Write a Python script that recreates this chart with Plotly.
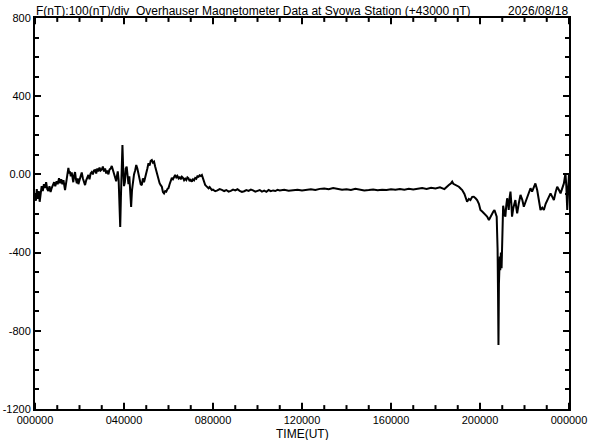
import plotly.graph_objects as go

# Time (hours UT) and total field deviation (nT, relative to 43000 nT)
time_h = [
    0.00, 0.04, 0.08, 0.12, 0.17, 0.21, 0.26, 0.30, 0.35, 0.40, 0.45, 0.50, 0.55, 0.60, 0.65,
    0.70, 0.75, 0.80, 0.86, 0.91, 0.97, 1.02, 1.08, 1.13, 1.18, 1.23, 1.28, 1.35, 1.40, 1.45,
    1.50, 1.54, 1.57, 1.61, 1.65, 1.69, 1.72, 1.76, 1.80, 1.84, 1.88, 1.92, 1.95, 2.00, 2.05,
    2.10, 2.15, 2.20, 2.25, 2.30, 2.35, 2.40, 2.45, 2.50, 2.55, 2.60, 2.65, 2.70, 2.75, 2.80,
    2.85, 2.90, 2.95, 3.00, 3.05, 3.10, 3.15, 3.20, 3.25, 3.30, 3.35, 3.40, 3.45, 3.50, 3.55,
    3.60, 3.65, 3.68, 3.72, 3.76,
    3.80, 3.83, 3.86, 3.90, 3.93, 3.96, 4.00, 4.04, 4.08, 4.12, 4.16, 4.20, 4.24, 4.28, 4.32,
    4.36, 4.40, 4.45, 4.50, 4.55, 4.60, 4.65, 4.70, 4.75, 4.80, 4.85, 4.90, 4.95,
    5.00, 5.05, 5.10, 5.15, 5.20, 5.25, 5.30, 5.35, 5.40, 5.45, 5.50, 5.55, 5.60, 5.65, 5.70,
    5.75, 5.80, 5.85, 5.90, 5.95, 6.00, 6.05, 6.10, 6.15, 6.20, 6.25, 6.30, 6.35, 6.40, 6.45,
    6.50, 6.55, 6.60, 6.65, 6.70, 6.75, 6.80, 6.85, 6.90, 6.95, 7.00, 7.05, 7.10, 7.15, 7.20,
    7.25, 7.30, 7.35, 7.40, 7.45, 7.50, 7.55, 7.60, 7.65, 7.70, 7.75, 7.80, 7.85, 7.90, 7.95,
    8.0, 8.1, 8.2, 8.3, 8.4, 8.5, 8.6, 8.7, 8.8, 8.9, 9.0, 9.1, 9.2, 9.3, 9.4, 9.5, 9.6, 9.7,
    9.8, 9.9, 10.0, 10.1, 10.2, 10.3, 10.4, 10.5, 10.6, 10.7, 10.8, 10.9,
    11.0, 11.2, 11.4, 11.6, 11.8, 12.0, 12.2, 12.4, 12.6, 12.8, 13.0, 13.2, 13.4, 13.6, 13.8,
    14.0, 14.2, 14.4, 14.6, 14.8, 15.0, 15.2, 15.4, 15.6, 15.8, 16.0, 16.2, 16.4, 16.6, 16.8,
    17.0, 17.2, 17.4, 17.6, 17.8, 18.0, 18.2, 18.4,
    18.5, 18.6, 18.7, 18.75, 18.8, 18.9, 19.0, 19.05, 19.15, 19.2, 19.3, 19.35, 19.42, 19.5,
    19.57, 19.65, 19.72, 19.80, 19.87, 19.95, 20.02, 20.10, 20.17, 20.25, 20.32, 20.40, 20.47,
    20.55, 20.60, 20.65, 20.69, 20.72, 20.75, 20.77, 20.79, 20.81, 20.83, 20.85, 20.87, 20.89,
    20.91, 20.94, 20.97, 21.00, 21.04, 21.10, 21.14, 21.18, 21.22, 21.26, 21.29, 21.33, 21.37,
    21.41, 21.44, 21.50, 21.55, 21.59, 21.63, 21.67, 21.74, 21.82, 21.90, 21.97, 22.05, 22.12,
    22.20, 22.27, 22.34, 22.42, 22.49, 22.57, 22.64, 22.72, 22.80, 22.87, 22.95, 23.02, 23.10,
    23.17, 23.25, 23.32, 23.40, 23.47, 23.55, 23.62, 23.70, 23.77, 23.84, 23.88, 23.92, 23.96,
    24.00,
]

field_nT = [
    -105, -135, -75, -125, -85, -140, -95, -60, -85, -50, -70, -40, -75, -85, -60,
    -90, -70, -50, -40, -60, -35, -50, -20, -45, -25, -50, -30, -80, -25, -5,
    33, 5, 15, -10, 10, -20, -40, -5, 12, -25, -45, -20, -50, -30, -10,
    10, -20, -40, -55, -30, -10, -3, -25, 5, 12, 0, 20, 22, 5, 30,
    15, 35, 20, 25, 40, 15, 30, 5, 20, 0, 25, 30, 43, 20, 0,
    -20, -35, -10, 15, -30,
    -150, -269, -120, 80, 150, 40, -60, -40, 30, 40, -20, -50, -10, -120, -167,
    -80, -40, 0, 20, 48, 30, 0, -30, -50, -55, -20, -40, -10,
    5, 30, 57, 45, 70, 74, 60, 65, 40, 15, -10, -29, -45, -55, -63,
    -90, -97, -85, -88, -75, -70, -50, -35, -18, -25, -10, -3, -15, -8, -20,
    -12, -25, -12, -18, -30, -22, -29, -15, -20, -35, -28, -37, -25, -30, -18,
    -22, -10, -12, -5, -8, -3, -20, -40, -54, -60, -68, -71, -65, -75, -80,
    -78, -86, -82, -75, -79, -85, -80, -88, -84, -78, -82, -76, -84, -90, -86,
    -80, -84, -78, -82, -88, -84, -80, -88, -83, -89, -80, -86, -82, -85, -79,
    -82, -79, -83, -80, -78, -82, -79, -76, -80, -74, -72, -76, -70, -75, -79,
    -76, -80, -74, -78, -82, -80, -77, -81, -78, -80, -76, -79, -75, -78, -74,
    -77, -72, -70, -74, -68, -72, -66, -75,
    -62, -54, -45, -37, -48, -54, -60, -63, -75, -80, -100, -114, -140, -125,
    -131, -115, -114, -122, -131, -150, -182, -190, -199, -205, -216, -233, -216,
    -199, -190, -182, -195, -210, -216, -300, -380, -600, -872, -560, -470, -420,
    -490, -400, -480, -330, -160, -200, -216, -160, -122, -150, -182, -120, -88,
    -150, -216, -170, -140, -131, -170, -199, -150, -105, -130, -165, -140, -114,
    -95, -71, -88, -60, -46, -80, -140, -182, -170, -182, -150, -131, -110,
    -97, -115, -131, -90, -63, -80, -97, -70, -46, 5, -60, -182, -80,
    5,
]

x_tickvals = [0, 4, 8, 12, 16, 20, 24]
x_minor_tickvals = [1, 2, 3, 5, 6, 7, 9, 10, 11, 13, 14, 15, 17, 18, 19, 21, 22, 23]
x_ticktext = ["000000", "040000", "080000", "120000", "160000", "200000", "000000"]
y_tickvals = [800, 400, 0, -400, -800, -1200]
y_ticktext = ["800", "400", "0.00", "-400", "-800", "-1200"]
x_range = [0, 24]
y_range = [-1200, 800]

title_left = "F(nT):100(nT)/div  Overhauser Magnetometer Data at Syowa Station (+43000 nT)"
title_right = "2026/08/18"
x_title = "TIME(UT)"

FONT = "Liberation Sans, Arial, sans-serif"

fig = go.Figure()
fig.add_trace(go.Scatter(
    x=time_h, y=field_nT, mode="lines",
    line=dict(color="black", width=2),
    hoverinfo="skip", showlegend=False,
))

# inward tick marks along the bottom and top frame edges, at the x tick values
# (tick length expressed as a fraction of the y-axis height)
for vals, frac in ((x_tickvals, 0.016), (x_minor_tickvals, 0.010)):
    for v in vals:
        fig.add_shape(type="line", xref="x", x0=v, x1=v, yref="y domain",
                      y0=0, y1=frac, line=dict(color="black", width=2), layer="above")
        fig.add_shape(type="line", xref="x", x0=v, x1=v, yref="y domain",
                      y0=1, y1=1 - frac, line=dict(color="black", width=2), layer="above")

base = dict(showline=True, linecolor="black", linewidth=2, showgrid=False,
            zeroline=False, automargin=False,
            tickfont=dict(family=FONT, size=11, color="black"))

fig.update_layout(
    xaxis=dict(range=x_range, tickmode="array", tickvals=x_tickvals, ticktext=x_ticktext,
               mirror=True, ticks="", ticklabelstandoff=0,
               **base),
    yaxis=dict(range=y_range, tickmode="array", tickvals=y_tickvals, ticktext=y_ticktext,
               mirror="ticks", ticks="inside", ticklen=6, tickwidth=2, tickcolor="black",
               minor=dict(dtick=100, ticks="inside", ticklen=4, tickcolor="black"),
               ticklabelstandoff=0,
               **base),
)

fig.add_annotation(text=title_left, xref="paper", yref="paper", x=0, y=1,
                   xanchor="left", yanchor="bottom", showarrow=False, borderpad=0,
                   font=dict(family=FONT, size=12, color="black"), yshift=-1)
fig.add_annotation(text=title_right, xref="paper", yref="paper", x=1, y=1,
                   xanchor="right", yanchor="bottom", showarrow=False, borderpad=0,
                   font=dict(family=FONT, size=12, color="black"), yshift=-1)
fig.add_annotation(text=x_title, xref="paper", yref="paper", x=0.5, y=0,
                   xanchor="center", yanchor="top", showarrow=False, borderpad=0,
                   font=dict(family=FONT, size=12, color="black"), yshift=-17)

fig.update_layout(
    width=592, height=440,
    margin=dict(l=35, r=23, t=18, b=31),
    paper_bgcolor="white", plot_bgcolor="white",
    font=dict(family=FONT, size=11, color="black"),
)

fig.write_html("out.html", config={"displayModeBar": False},
               post_script="document.body.style.margin='0';"
               "document.body.style.overflow='hidden';")
